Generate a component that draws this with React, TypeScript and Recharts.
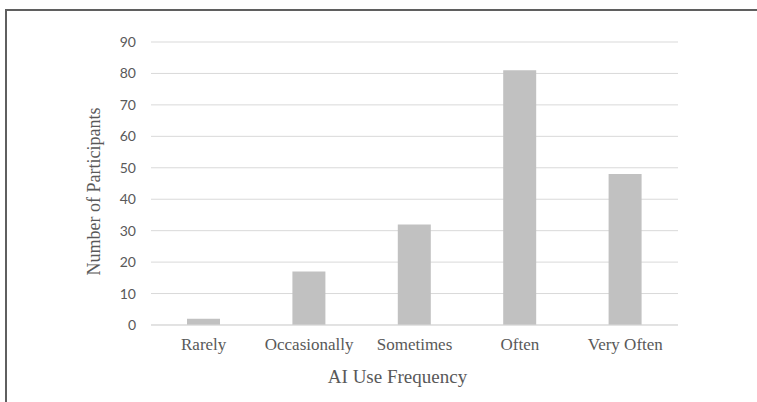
import React from "react";
import { BarChart, Bar, XAxis, YAxis, CartesianGrid, Label } from "recharts";

const categories = ["Rarely", "Occasionally", "Sometimes", "Often", "Very Often"];
const participants = [2, 17, 32, 81, 48];
const yTicks = [0, 10, 20, 30, 40, 50, 60, 70, 80, 90];

const data = categories.map((c, i) => ({ category: c, value: participants[i] }));

export default function App() {
  return (
    <div style={{ position: "absolute", left: 0, top: 0, width: 757, height: 402, background: "#fff", overflow: "hidden" }}>
      <div
        style={{
          position: "absolute",
          left: 5,
          top: 9,
          width: 800,
          height: 500,
          borderLeft: "2px solid #5f5f5f",
          borderTop: "2px solid #5f5f5f",
        }}
      />
      <div style={{ position: "absolute", left: 0, top: 0 }}>
        <BarChart width={757} height={402} data={data} margin={{ top: 42, right: 79, bottom: 0, left: 0 }}>
          <CartesianGrid horizontal vertical={false} stroke="#d9d9d9" strokeWidth={1} />
          <XAxis
            dataKey="category"
            height={77}
            axisLine={{ stroke: "#d9d9d9", strokeWidth: 1 }}
            tickLine={false}
            tickSize={0}
            tickMargin={13}
            interval={0}
            tick={{ fill: "#595959", fontFamily: "Liberation Serif", fontSize: 17 }}
          >
            <Label
              value="AI Use Frequency"
              position="insideBottom"
              offset={19}
              dx={-17}
              style={{ fill: "#595959", fontFamily: "Liberation Serif", fontSize: 19 }}
            />
          </XAxis>
          <YAxis
            width={151}
            domain={[0, 90]}
            ticks={yTicks}
            interval={0}
            axisLine={false}
            tickLine={false}
            tickSize={0}
            tickMargin={15}
            tick={{ fill: "#595959", fontFamily: "Lato", fontSize: 14 }}
          >
            <Label
              value="Number of Participants"
              angle={-90}
              position="insideLeft"
              offset={94}
              dy={8}
              style={{ textAnchor: "middle", fill: "#595959", fontFamily: "Liberation Serif", fontSize: 18 }}
            />
          </YAxis>
          <Bar dataKey="value" fill="#c1c1c1" barSize={33} isAnimationActive={false} />
        </BarChart>
      </div>
    </div>
  );
}
